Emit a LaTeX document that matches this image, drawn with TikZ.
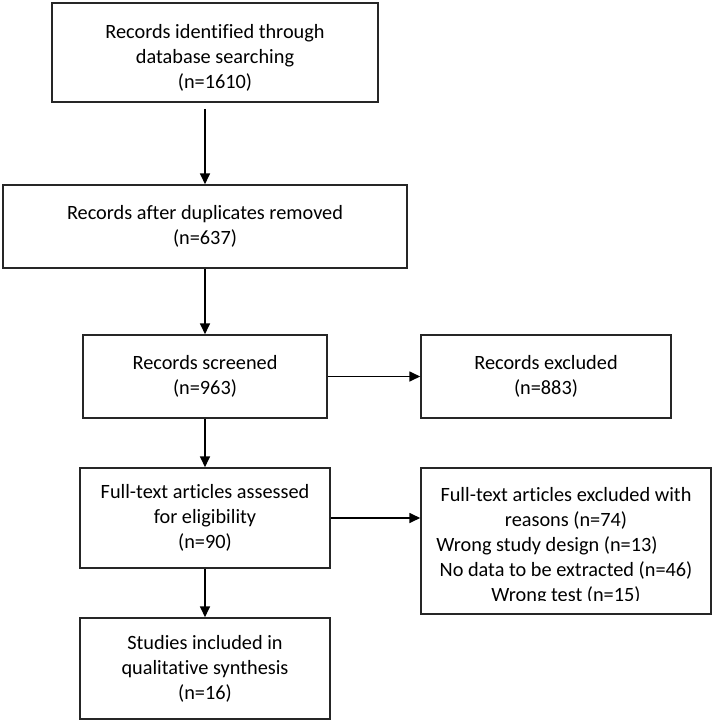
\documentclass[tikz,border=0pt]{standalone}
\usepackage{fontspec}
\setmainfont{Carlito}[Ligatures=NoCommon]
\usetikzlibrary{arrows.meta}
\begin{document}
\begin{tikzpicture}[x=1pt,y=-1pt,
  box/.style={draw=black!85, line width=1.5pt, inner sep=0pt, align=center,
    font=\fontsize{20.3}{25}\selectfont},
  arr/.style={draw=black, line width=1.7pt, -{Triangle[length=11pt,width=10pt]}},
  txt/.style={inner sep=0pt, align=center, font=\fontsize{20.3}{25}\selectfont}]
\useasboundingbox[fill=white] (0,0) rectangle (715,721);
\node[box, minimum width=326pt, minimum height=99pt] (B1) at (215,52.5)
  {\rule{0pt}{6pt}\\[-6pt]Records identified through\\database searching\\(n=1610)};
\node[box, minimum width=404pt, minimum height=83pt] (B2) at (205,226.5)
  {Records after duplicates removed\\(n=637)};
\node[box, minimum width=244pt, minimum height=83pt] (B3) at (205,376.5)
  {Records screened\\(n=963)};
\node[box, minimum width=250pt, minimum height=83pt] (B4) at (546,376.5)
  {Records excluded\\(n=883)};
\node[box, minimum width=250pt, minimum height=100pt] (B5) at (205,518)
  {Full-text articles assessed\\for eligibility\\(n=90)};
\node[box, minimum width=290pt, minimum height=146pt] (B6) at (566,541) {};
\begin{scope}
  \clip (B6.north west) rectangle (711,600);
  \node[txt, anchor=north] (T6) at (566,487)
    {Full-text articles excluded with\\reasons (n=74)\\Wrong study design (n=13)\hspace*{38pt}\rule{0pt}{0pt}\\No data to be extracted (n=46)\\Wrong test (n=15)};
\end{scope}
\node[box, minimum width=250pt, minimum height=101pt] (B7) at (205,668.5)
  {Studies included in\\qualitative synthesis\\(n=16)};
\draw[arr] ([yshift=-6pt]B1.south -| B2.north) -- (B2.north);
\draw[arr] (B2.south) -- (B3.north);
\draw[arr] (B3.south) -- (B5.north);
\draw[arr] (B5.south) -- (B7.north);
\draw[arr] (B3.east) -- (B4.west);
\draw[arr] (B5.east) -- (B5.east -| B6.west);
\end{tikzpicture}
\end{document}
